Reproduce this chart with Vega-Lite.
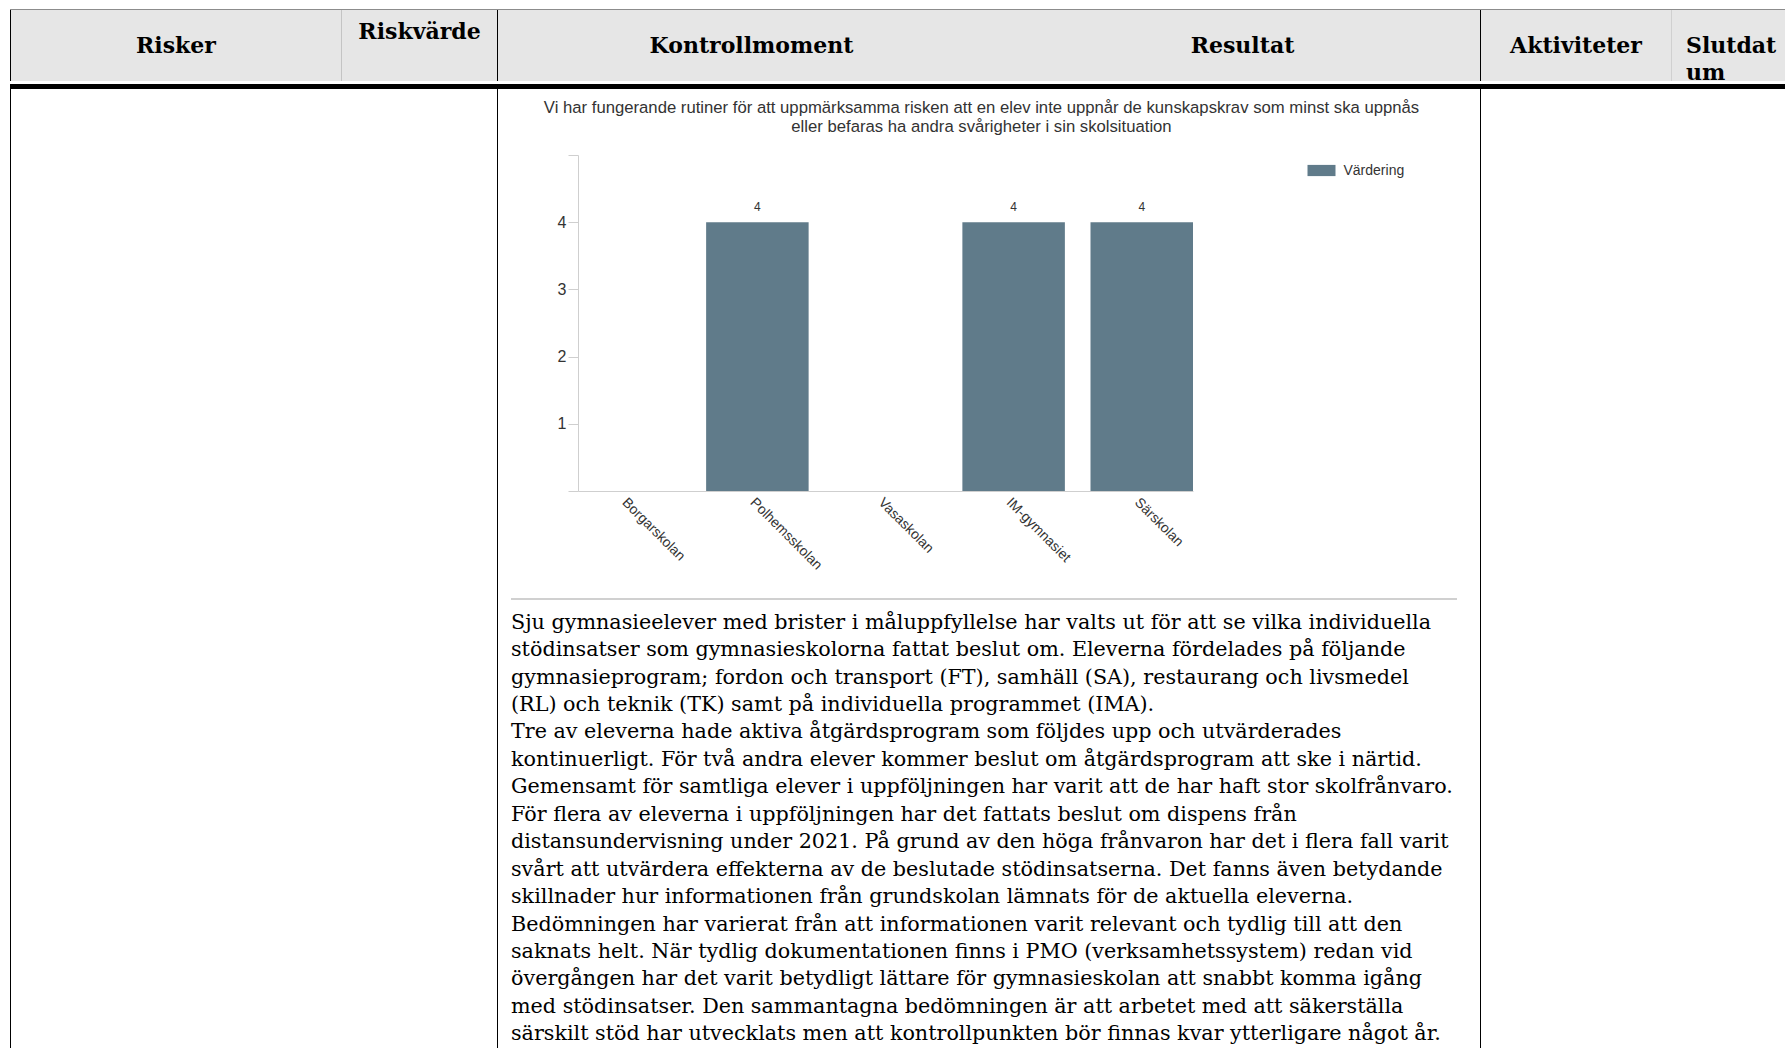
{
  "$schema": "https://vega.github.io/schema/vega-lite/v6.json",
  "padding": {"left": 10, "top": 9, "right": 0, "bottom": 0},
  "background": "#ffffff",
  "config": {"view": {"stroke": null}, "concat": {"spacing": 0}, "font": "Liberation Sans"},
  "spacing": 0,
  "resolve": {"scale": {"color": "independent"}, "legend": {"color": "independent"}},
  "vconcat": [
    {"width": 1775, "height": 1, "data": {"values": []}, "mark": "text", "encoding": {}, "view": {"fill": "#8c8c8c", "stroke": null}},
    {
      "spacing": 0,
      "hconcat": [
        {"width": 1, "height": 71, "data": {"values": []}, "mark": "text", "encoding": {}, "view": {"fill": "#000000", "stroke": null}},
        {"width": 330, "height": 71, "data": {"values": [{"h": "Risker"}]}, "mark": {"type": "text", "font": "DejaVu Serif", "fontWeight": "bold", "fontSize": 22, "color": "#000", "baseline": "middle"}, "encoding": {"text": {"field": "h"}}, "view": {"fill": "#e6e6e6", "stroke": null}},
        {"width": 1, "height": 71, "data": {"values": []}, "mark": "text", "encoding": {}, "view": {"fill": "#c4c4c4", "stroke": null}},
        {"width": 155, "height": 71, "data": {"values": [{"h": "Riskvärde"}]}, "mark": {"type": "text", "font": "DejaVu Serif", "fontWeight": "bold", "fontSize": 22, "color": "#000", "baseline": "middle", "dy": -13.5}, "encoding": {"text": {"field": "h"}}, "view": {"fill": "#e6e6e6", "stroke": null}},
        {"width": 1, "height": 71, "data": {"values": []}, "mark": "text", "encoding": {}, "view": {"fill": "#000000", "stroke": null}},
        {"width": 507, "height": 71, "data": {"values": [{"h": "Kontrollmoment"}]}, "mark": {"type": "text", "font": "DejaVu Serif", "fontWeight": "bold", "fontSize": 22, "color": "#000", "baseline": "middle"}, "encoding": {"text": {"field": "h"}}, "view": {"fill": "#e6e6e6", "stroke": null}},
        {"width": 475, "height": 71, "data": {"values": [{"h": "Resultat"}]}, "mark": {"type": "text", "font": "DejaVu Serif", "fontWeight": "bold", "fontSize": 22, "color": "#000", "baseline": "middle"}, "encoding": {"text": {"field": "h"}}, "view": {"fill": "#e6e6e6", "stroke": null}},
        {"width": 1, "height": 71, "data": {"values": []}, "mark": "text", "encoding": {}, "view": {"fill": "#000000", "stroke": null}},
        {"width": 190, "height": 71, "data": {"values": [{"h": "Aktiviteter"}]}, "mark": {"type": "text", "font": "DejaVu Serif", "fontWeight": "bold", "fontSize": 22, "color": "#000", "baseline": "middle"}, "encoding": {"text": {"field": "h"}}, "view": {"fill": "#e6e6e6", "stroke": null}},
        {"width": 1, "height": 71, "data": {"values": []}, "mark": "text", "encoding": {}, "view": {"fill": "#d0d0d0", "stroke": null}},
        {"width": 113, "height": 71, "data": {"values": [{"h": ["Slutdat", "um"]}]}, "mark": {"type": "text", "font": "DejaVu Serif", "fontWeight": "bold", "fontSize": 22, "color": "#000", "baseline": "middle", "align": "left", "lineHeight": 27, "dx": 14}, "encoding": {"x": {"datum": 0, "type": "quantitative", "scale": {"domain": [0, 1]}, "axis": null}, "text": {"field": "h"}}, "view": {"fill": "#e6e6e6", "stroke": null}}
      ]
    },
    {"width": 1775, "height": 5, "data": {"values": []}, "mark": "text", "encoding": {}, "view": {"fill": "#000000", "stroke": null}},
    {
      "spacing": 0,
      "resolve": {"scale": {"color": "independent"}, "legend": {"color": "independent"}},
      "hconcat": [
        {"width": 1, "height": 962, "data": {"values": []}, "mark": "text", "encoding": {}, "view": {"fill": "#000000", "stroke": null}},
        {"width": 486, "height": 962, "data": {"values": []}, "mark": "text", "encoding": {}},
        {"width": 1, "height": 962, "data": {"values": []}, "mark": "text", "encoding": {}, "view": {"fill": "#000000", "stroke": null}},
        {
          "spacing": 0,
          "resolve": {"scale": {"color": "independent"}, "legend": {"color": "independent"}},
          "vconcat": [
            {"width": 982, "height": 10, "data": {"values": []}, "mark": "text", "encoding": {}},
            {
              "spacing": 0,
              "resolve": {"scale": {"color": "independent"}, "legend": {"color": "independent"}},
              "hconcat": [
                {"width": 45, "height": 336, "data": {"values": []}, "mark": "text", "encoding": {}},
                {
                  "width": 615,
                  "height": 336,
                  "title": {
                    "text": ["Vi har fungerande rutiner för att uppmärksamma risken att en elev inte uppnår de kunskapskrav som minst ska uppnås", "eller befaras ha andra svårigheter i sin skolsituation"],
                    "fontSize": 16.7, "font": "Liberation Sans", "fontWeight": "normal", "color": "#333333", "lineHeight": 19, "anchor": "middle", "dx": 96, "offset": 19
                  },
                  "data": {"values": [
                    {"skola": "Borgarskolan", "varde": null},
                    {"skola": "Polhemsskolan", "varde": 4},
                    {"skola": "Vasaskolan", "varde": null},
                    {"skola": "IM-gymnasiet", "varde": 4},
                    {"skola": "Särskolan", "varde": 4}
                  ]},
                  "encoding": {
                    "x": {"field": "skola", "type": "nominal", "sort": null,
                      "scale": {"domain": ["Borgarskolan", "Polhemsskolan", "Vasaskolan", "IM-gymnasiet", "Särskolan"], "paddingInner": 0.2, "paddingOuter": 0},
                      "axis": {"labelAngle": 45, "ticks": false, "domainColor": "#cfcfcf", "labelFontSize": 14, "labelColor": "#333333", "labelFont": "Liberation Sans", "title": null, "labelPadding": 4}},
                    "y": {"field": "varde", "type": "quantitative",
                      "scale": {"domain": [0, 5], "nice": false},
                      "axis": {"values": [0, 1, 2, 3, 4, 5], "labelExpr": "datum.value >= 1 && datum.value <= 4 ? datum.label : ''", "grid": false, "tickSize": 10, "tickColor": "#cfcfcf", "domainColor": "#cfcfcf", "labelFontSize": 16, "labelColor": "#333333", "labelFont": "Liberation Sans", "labelPadding": 2, "title": null}},
                    "color": {"datum": "Värdering", "type": "nominal", "scale": {"range": ["#607b8a"]},
                      "legend": {"title": null, "orient": "right", "offset": 112.5, "padding": 1.5, "symbolType": "M-1,-0.4H1V0.4H-1Z", "symbolSize": 784, "symbolStrokeWidth": 0, "symbolOpacity": 1, "labelFontSize": 14, "labelColor": "#333333", "labelOffset": 8, "labelFont": "Liberation Sans"}}
                  },
                  "layer": [
                    {"mark": {"type": "bar"}},
                    {
                      "mark": {"type": "text", "dy": -15, "baseline": "middle", "fontSize": 12, "font": "Liberation Sans"},
                      "encoding": {"text": {"field": "varde", "type": "quantitative"}, "color": {"value": "#333333"}}
                    }
                  ]
                }
              ]
            },
            {
              "spacing": 0,
              "hconcat": [
                {"width": 13, "height": 1, "data": {"values": []}, "mark": "text", "encoding": {}},
                {
                  "spacing": 0,
                  "vconcat": [
                    {"width": 946, "height": 25, "data": {"values": []}, "mark": "text", "encoding": {}},
                    {"width": 946, "height": 2, "data": {"values": []}, "mark": "text", "encoding": {}, "view": {"fill": "#d0d0d0", "stroke": null}},
                    {"width": 946, "height": 9, "data": {"values": []}, "mark": "text", "encoding": {}},
                    {
                      "width": 946,
                      "height": 439,
                      "data": {"values": [
                        {"rad": 1, "t": "Sju gymnasieelever med brister i måluppfyllelse har valts ut för att se vilka individuella"},
                        {"rad": 2, "t": "stödinsatser som gymnasieskolorna fattat beslut om. Eleverna fördelades på följande"},
                        {"rad": 3, "t": "gymnasieprogram; fordon och transport (FT), samhäll (SA), restaurang och livsmedel"},
                        {"rad": 4, "t": "(RL) och teknik (TK) samt på individuella programmet (IMA)."},
                        {"rad": 5, "t": "Tre av eleverna hade aktiva åtgärdsprogram som följdes upp och utvärderades"},
                        {"rad": 6, "t": "kontinuerligt. För två andra elever kommer beslut om åtgärdsprogram att ske i närtid."},
                        {"rad": 7, "t": "Gemensamt för samtliga elever i uppföljningen har varit att de har haft stor skolfrånvaro."},
                        {"rad": 8, "t": "För flera av eleverna i uppföljningen har det fattats beslut om dispens från"},
                        {"rad": 9, "t": "distansundervisning under 2021. På grund av den höga frånvaron har det i flera fall varit"},
                        {"rad": 10, "t": "svårt att utvärdera effekterna av de beslutade stödinsatserna. Det fanns även betydande"},
                        {"rad": 11, "t": "skillnader hur informationen från grundskolan lämnats för de aktuella eleverna."},
                        {"rad": 12, "t": "Bedömningen har varierat från att informationen varit relevant och tydlig till att den"},
                        {"rad": 13, "t": "saknats helt. När tydlig dokumentationen finns i PMO (verksamhetssystem) redan vid"},
                        {"rad": 14, "t": "övergången har det varit betydligt lättare för gymnasieskolan att snabbt komma igång"},
                        {"rad": 15, "t": "med stödinsatser. Den sammantagna bedömningen är att arbetet med att säkerställa"},
                        {"rad": 16, "t": "särskilt stöd har utvecklats men att kontrollpunkten bör finnas kvar ytterligare något år."}
                      ]},
                      "mark": {"type": "text", "align": "left", "baseline": "middle", "font": "DejaVu Serif", "fontSize": 20.7, "color": "#000000"},
                      "encoding": {
                        "x": {"datum": 0, "type": "quantitative", "scale": {"domain": [0, 1]}, "axis": null},
                        "y": {"field": "rad", "type": "ordinal", "sort": null, "axis": null},
                        "text": {"field": "t"}
                      }
                    }
                  ]
                }
              ]
            }
          ]
        },
        {"width": 1, "height": 962, "data": {"values": []}, "mark": "text", "encoding": {}, "view": {"fill": "#000000", "stroke": null}},
        {"width": 304, "height": 962, "data": {"values": []}, "mark": "text", "encoding": {}}
      ]
    }
  ]
}
